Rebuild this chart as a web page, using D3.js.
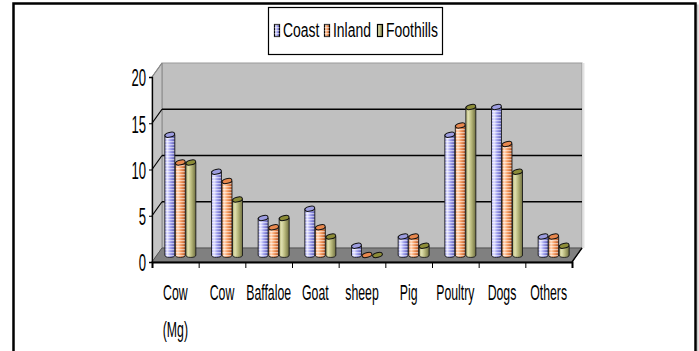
<!DOCTYPE html>
<html>
<head>
<meta charset="utf-8">
<script src="https://cdn.jsdelivr.net/npm/d3@7"></script>
<style>
  html, body { margin: 0; padding: 0; background: #fff; }
  svg text { font-family: "Liberation Sans", Arial, sans-serif; fill: #000; }
</style>
</head>
<body>
<div id="chart"></div>
<script>
// animals per household, by zone
const categories = ["Cow (Mg)", "Cow", "Baffaloe", "Goat", "sheep", "Pig", "Poultry", "Dogs", "Others"];
const coast = [13, 9, 4, 5, 1, 2, 13, 16, 2];
const inland = [10, 8, 3, 3, 0, 2, 14, 12, 2];
const foothills = [10, 6, 4, 2, 0, 1, 16, 9, 1];
const seriesNames = ["Coast", "Inland", "Foothills"];
const yTicks = [0, 5, 10, 15, 20];

const width = 699, height = 351;
const plot = { left: 152, right: 572, floor: 262, top: 77 };
// depth of the 3d box: back wall is shifted right / up
const depth = { dx: 10, dy: -14 };

// colours per series: light, base, dark, cap
const palette = [
  { light: "#e4e4ff", base: "#9f9fef", dark: "#5c5cb0", cap: "#9d9de0", stripe: true },
  { light: "#ffd2b0", base: "#f79a5e", dark: "#b4582a", cap: "#e8884e", stripe: true },
  { light: "#e0e0b0", base: "#b9b97c", dark: "#6f6f3f", cap: "#8c8c38", stripe: false }
];

const svg = d3.select("#chart").append("svg")
  .attr("width", width)
  .attr("height", height);

const defs = svg.append("defs");
palette.forEach(function (p, i) {
  const g = defs.append("linearGradient").attr("id", "grad" + i)
    .attr("x1", "0%").attr("x2", "100%").attr("y1", "0%").attr("y2", "0%");
  g.append("stop").attr("offset", "0%").attr("stop-color", p.base);
  g.append("stop").attr("offset", "25%").attr("stop-color", p.light);
  g.append("stop").attr("offset", "55%").attr("stop-color", p.base);
  g.append("stop").attr("offset", "100%").attr("stop-color", p.dark);
});
// horizontal stripes used on coast / inland cylinders
const pat = defs.append("pattern").attr("id", "stripes")
  .attr("patternUnits", "userSpaceOnUse").attr("width", 4).attr("height", 3);
pat.append("rect").attr("x", 0).attr("y", 0).attr("width", 4).attr("height", 1.2)
  .attr("fill", "#fff").attr("opacity", 0.55);

// outer frame
svg.append("rect").attr("x", 15.5).attr("y", 5.5).attr("width", 682).attr("height", 400)
  .attr("fill", "none").attr("stroke", "#c8c8c8").attr("stroke-width", 2);
svg.append("rect").attr("x", 13.5).attr("y", 3.5).attr("width", 682).attr("height", 400)
  .attr("fill", "#fff").attr("stroke", "#000").attr("stroke-width", 2.5);

// scales
const yFront = d3.scaleLinear().domain([0, 20]).range([plot.floor, plot.top]);
const yBack = function (v) { return yFront(v) + depth.dy; };
const yMid = function (v) { return yFront(v) + depth.dy / 2; };
const x = d3.scaleBand().domain(categories).range([plot.left, plot.right]);
const xIdx = d3.scaleLinear().domain([0, categories.length]).range([plot.left, plot.right]);
const xInner = d3.scaleBand().domain(seriesNames).range([0, 31]).paddingInner(0.05);

const box = svg.append("g");

// back wall
box.append("rect")
  .attr("x", plot.left + depth.dx).attr("y", yBack(20))
  .attr("width", plot.right - plot.left).attr("height", yBack(0) - yBack(20))
  .attr("fill", "#c0c0c0").attr("stroke", "#9a9a9a").attr("stroke-width", 1);
box.append("line")
  .attr("x1", plot.right + depth.dx + 1.5).attr("x2", plot.right + depth.dx + 1.5)
  .attr("y1", yBack(20)).attr("y2", yBack(0))
  .attr("stroke", "#e2e2e2").attr("stroke-width", 2);

// side wall
box.append("path")
  .attr("d", "M" + plot.left + "," + yFront(20) + " L" + (plot.left + depth.dx) + "," + yBack(20) +
    " L" + (plot.left + depth.dx) + "," + yBack(0) + " L" + plot.left + "," + yFront(0) + "Z")
  .attr("fill", "#c4c4c4").attr("stroke", "#888").attr("stroke-width", 1);

// floor
box.append("path")
  .attr("d", "M" + plot.left + "," + yFront(0) + " L" + (plot.left + depth.dx) + "," + yBack(0) +
    " L" + (plot.right + depth.dx) + "," + yBack(0) + " L" + plot.right + "," + yFront(0) + "Z")
  .attr("fill", "#808080").attr("stroke", "#555").attr("stroke-width", 1);

// gridlines: along side wall then across back wall
const grid = yTicks.filter(function (d) { return d > 0 && d < 20; });
box.selectAll(".gridback").data(grid).enter().append("line")
  .attr("x1", plot.left + depth.dx).attr("x2", plot.right + depth.dx)
  .attr("y1", function (d) { return yBack(d); }).attr("y2", function (d) { return yBack(d); })
  .attr("stroke", "#000").attr("stroke-width", 1.6);
box.selectAll(".gridside").data(yTicks.filter(function (d) { return d > 0; })).enter().append("line")
  .attr("x1", plot.left).attr("x2", plot.left + depth.dx)
  .attr("y1", function (d) { return yFront(d); }).attr("y2", function (d) { return yBack(d); })
  .attr("stroke", function (d) { return d === 20 ? "#888" : "#000"; })
  .attr("stroke-width", 1.2);

// cylinders
const seriesData = [coast, inland, foothills];
const bars = [];
categories.forEach(function (c, ci) {
  seriesNames.forEach(function (s, si) {
    bars.push({ cat: c, s: si, name: s, v: seriesData[si][ci] });
  });
});

const bw = xInner.bandwidth();
const rx = bw / 2, ry = 2.4;
function barX(d) {
  return x(d.cat) + x.bandwidth() / 2 + depth.dx / 2 - 15.5 + xInner(d.name);
}

const bg = svg.append("g");
const cyl = bg.selectAll(".cyl").data(bars).enter().append("g").attr("class", "cyl");

function bodyPath(d) {
  const x0 = barX(d), x1 = x0 + bw, top = yMid(d.v), bot = yMid(0);
  return "M" + x0 + "," + top + " L" + x0 + "," + bot +
    " A" + rx + "," + ry + " 0 0 0 " + x1 + "," + bot +
    " L" + x1 + "," + top + "Z";
}
cyl.filter(function (d) { return d.v > 0; }).append("path")
  .attr("d", bodyPath)
  .attr("fill", function (d) { return "url(#grad" + d.s + ")"; });
cyl.filter(function (d) { return d.v > 0 && palette[d.s].stripe; }).append("path")
  .attr("d", bodyPath)
  .attr("fill", "url(#stripes)");
cyl.filter(function (d) { return d.v > 0; }).append("path")
  .attr("d", bodyPath)
  .attr("fill", "none").attr("stroke", "#1a1a1a").attr("stroke-width", 0.9);
cyl.append("ellipse")
  .attr("cx", function (d) { return barX(d) + rx; })
  .attr("cy", function (d) { return yMid(d.v); })
  .attr("rx", rx).attr("ry", ry)
  .attr("transform", function (d) { return "rotate(-14," + (barX(d) + rx) + "," + yMid(d.v) + ")"; })
  .attr("fill", function (d) { return palette[d.s].cap; })
  .attr("stroke", "#111").attr("stroke-width", 1);

// y axis
const yAxis = svg.append("g")
  .attr("transform", "translate(" + plot.left + ",0)")
  .call(d3.axisLeft(yFront).tickValues(yTicks).tickSize(3).tickPadding(5));
yAxis.select(".domain").attr("stroke", "#000").attr("stroke-width", 1.3);
yAxis.selectAll(".tick line").attr("stroke", "#000");
yAxis.selectAll(".tick text")
  .attr("font-size", 16)
  .attr("dy", null).attr("x", null)
  .attr("dominant-baseline", "central")
  .attr("transform", "translate(-6,0) scale(0.82,1.55)");

// x axis (ticks on category boundaries)
const xAxis = svg.append("g")
  .attr("transform", "translate(0," + plot.floor + ")")
  .call(d3.axisBottom(xIdx).tickValues(d3.range(categories.length + 1))
    .tickSize(6).tickFormat(function () { return ""; }));
xAxis.select(".domain").attr("stroke", "#000").attr("stroke-width", 2);
xAxis.selectAll(".tick line").attr("stroke", "#000");

// right edge of floor
svg.append("line")
  .attr("x1", plot.right).attr("y1", yFront(0))
  .attr("x2", plot.right + depth.dx).attr("y2", yBack(0))
  .attr("stroke", "#000").attr("stroke-width", 1.3);

// category labels
const lab = svg.append("g").selectAll(".lab").data(categories).enter().append("g")
  .attr("transform", function (d) { return "translate(" + (x(d) + x.bandwidth() / 2) + ",0)"; });
lab.each(function (d) {
  const parts = d.split(" ");
  const g = d3.select(this);
  parts.forEach(function (p, k) {
    g.append("text")
      .attr("text-anchor", "middle")
      .attr("font-size", 15)
      .attr("transform", "translate(0," + (300 + k * 37) + ") scale(0.82,1.46)")
      .text(p);
  });
});

// legend
const legend = svg.append("g");
legend.append("rect").attr("x", 268.5).attr("y", 7.5).attr("width", 174).attr("height", 47)
  .attr("fill", "#fff").attr("stroke", "#000").attr("stroke-width", 1.2);
const legX = [274, 324, 377];
const li = legend.selectAll(".li").data(seriesNames).enter().append("g")
  .attr("transform", function (d, i) { return "translate(" + legX[i] + ",0)"; });
li.append("rect").attr("x", 0.5).attr("y", 24.5).attr("width", 5).attr("height", 12)
  .attr("fill", function (d, i) { return "url(#grad" + i + ")"; })
  .attr("stroke", "#000").attr("stroke-width", 1.2);
li.filter(function (d, i) { return palette[i].stripe; }).append("rect")
  .attr("x", 0.5).attr("y", 24.5).attr("width", 5).attr("height", 12)
  .attr("fill", "url(#stripes)");
li.append("text")
  .attr("font-size", 17)
  .attr("transform", "translate(9,37) scale(0.82,1.15)")
  .text(function (d) { return d; });
</script>
</body>
</html>
